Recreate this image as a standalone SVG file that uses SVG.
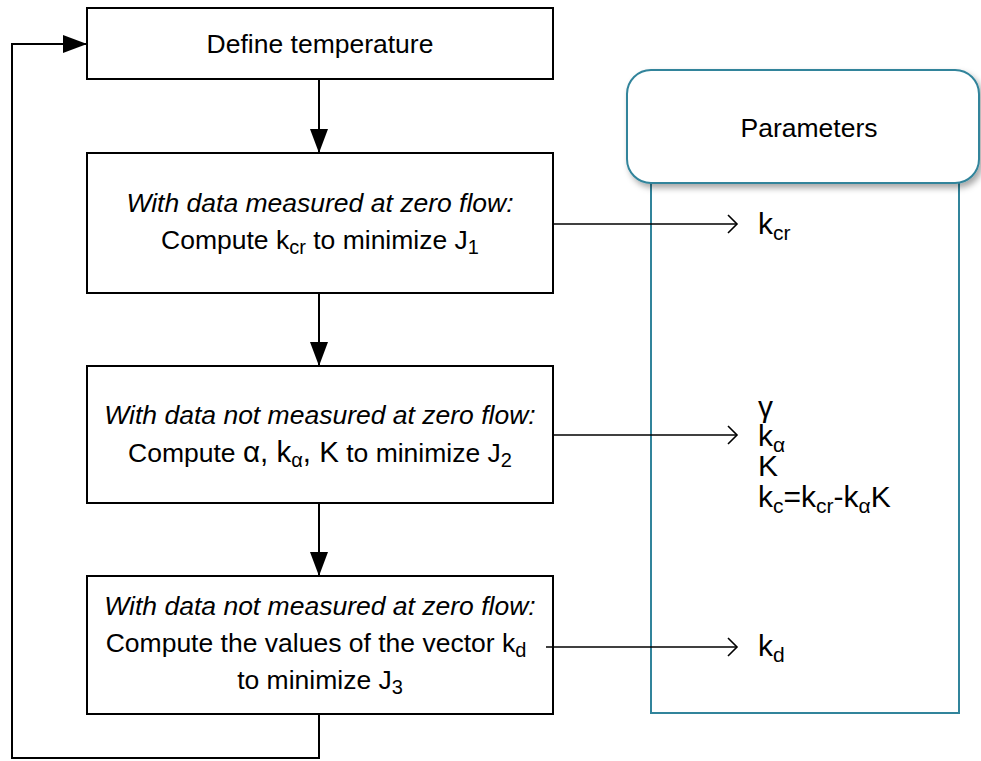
<svg xmlns="http://www.w3.org/2000/svg" width="981" height="761" viewBox="0 0 981 761">
<style>
text{font-family:"Liberation Sans",Arial,sans-serif;font-size:26.5px;fill:#000}
.it{font-style:italic}
.box{fill:#fff;stroke:#000;stroke-width:2}
.pbox{fill:#fff;stroke:#31849B;stroke-width:2}
.ln{fill:none;stroke:#000;stroke-width:2}
.thin{fill:none;stroke:#000;stroke-width:1.6}
.sub{font-size:20px}
.pv{font-size:30px}
.pv .sub{font-size:21px}
</style>
<defs>
<marker id="fa" markerWidth="24" markerHeight="18" refX="24" refY="9" orient="auto" markerUnits="userSpaceOnUse">
<path d="M0,0 L24,9 L0,18 Z" fill="#000"/>
</marker>
<marker id="oa" markerWidth="12" markerHeight="20" refX="10" refY="10" orient="auto" markerUnits="userSpaceOnUse">
<path d="M1,1 L10,10 L1,19" fill="none" stroke="#000" stroke-width="1.6"/>
</marker>
<filter id="sh" x="-10%" y="-10%" width="130%" height="140%">
<feDropShadow dx="3" dy="4" stdDeviation="3" flood-color="#000" flood-opacity="0.35"/>
</filter>
</defs>

<g id="parameters">
<rect class="pbox" x="651" y="150" width="308" height="563"/>
<rect class="pbox" x="627" y="70" width="352" height="113" rx="24" ry="24" filter="url(#sh)"/>
<text x="809" y="137" text-anchor="middle">Parameters</text>
</g>

<g id="define-temperature">
<rect class="box" x="87" y="8" width="466" height="71"/>
<text x="320" y="53" text-anchor="middle">Define temperature</text>
</g>

<g id="step1">
<rect class="box" x="87" y="153" width="466" height="140"/>
<text class="it" x="320" y="212" text-anchor="middle">With data measured at zero flow:</text>
<text x="320" y="249" text-anchor="middle">Compute k<tspan class="sub" dy="5">cr</tspan><tspan dy="-5"> to minimize J</tspan><tspan class="sub" dy="5">1</tspan></text>
</g>

<g id="step2">
<rect class="box" x="87" y="366" width="466" height="137"/>
<text class="it" x="320" y="424" text-anchor="middle">With data not measured at zero flow:</text>
<text x="320" y="462" text-anchor="middle">Compute <tspan font-size="29.5">α, k</tspan><tspan class="sub" dy="5">α</tspan><tspan dy="-5" font-size="29.5">, K</tspan> to minimize J<tspan class="sub" dy="5">2</tspan></text>
</g>

<g id="step3">
<rect class="box" x="87" y="576" width="466" height="138"/>
<text class="it" x="320" y="615" text-anchor="middle">With data not measured at zero flow:</text>
<text x="316" y="652" text-anchor="middle">Compute the values of the vector k<tspan class="sub" dy="5">d</tspan></text>
<text x="320" y="689" text-anchor="middle">to minimize J<tspan class="sub" dy="5">3</tspan></text>
</g>

<g id="param-values" class="pv">
<text class="pv" x="758" y="234">k<tspan class="sub" dy="6">cr</tspan></text>
<text class="pv" x="758" y="417">γ</text>
<text class="pv" x="758" y="446">k<tspan class="sub" dy="6">α</tspan></text>
<text class="pv" x="758" y="476">K</text>
<text class="pv" x="758" y="507">k<tspan class="sub" dy="6">c</tspan><tspan dy="-6">=k</tspan><tspan class="sub" dy="6">cr</tspan><tspan dy="-6">-k</tspan><tspan class="sub" dy="6">α</tspan><tspan dy="-6">K</tspan></text>
<text class="pv" x="758" y="656">k<tspan class="sub" dy="6">d</tspan></text>
</g>

<g id="connectors">
<line class="ln" x1="319" y1="79" x2="319" y2="153" marker-end="url(#fa)"/>
<line class="ln" x1="319" y1="293" x2="319" y2="366" marker-end="url(#fa)"/>
<line class="ln" x1="319" y1="503" x2="319" y2="576" marker-end="url(#fa)"/>
<polyline class="ln" points="319,714 319,758 12,758 12,44 87,44" marker-end="url(#fa)"/>
<line class="thin" x1="553" y1="224" x2="737" y2="224" marker-end="url(#oa)"/>
<line class="thin" x1="553" y1="435" x2="737" y2="435" marker-end="url(#oa)"/>
<line class="thin" x1="546" y1="647" x2="737" y2="647" marker-end="url(#oa)"/>
</g>
</svg>
